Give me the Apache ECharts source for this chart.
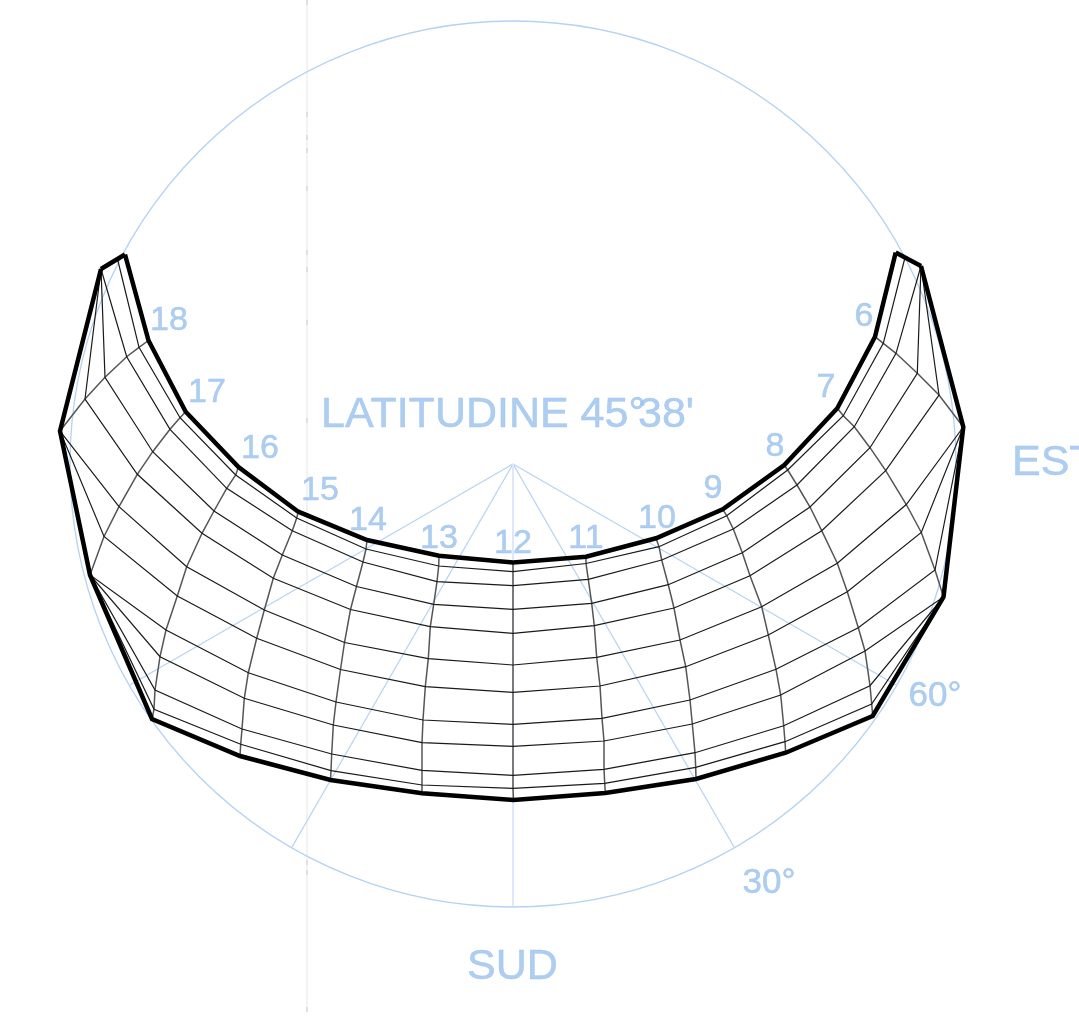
<!DOCTYPE html>
<html><head><meta charset="utf-8">
<style>html,body{margin:0;padding:0;background:#fff}#c{width:1079px;height:1018px}</style>
<script src="https://cdn.jsdelivr.net/npm/echarts@6/dist/echarts.min.js"></script>
</head><body><div id="c"></div>
<script>
// hour columns: node 0 = top thick curve ... node 11 = bottom thick curve
const h19=[[125,254.5],[117.5,259],[101,269],[101,269],[101,269],[101,269],[101,269],[101,269],[101,269],[101,269],[101,269],[101,269]];
const h18=[[148.5,340.5],[139,347.3],[126.7,356.7],[105,377.3],[85,399],[60,431],[60,431],[60,431],[60,431],[60,431],[60,431],[60,431]];
const h17=[[185.7,411.7],[180,417.7],[170,429.3],[152.7,451.7],[137.3,474.3],[119,506.7],[104,536.5],[90,575],[90,575],[90,575],[90,575],[90,575]];
const h16=[[238.5,467],[235.7,475],[226.7,488.3],[214,511],[202,533.3],[186.7,566.7],[177.3,596],[166,630],[160,656.7],[155,690],[154,709.3],[152,719]];
const h15=[[298.3,511.7],[296.7,518],[292.3,530.7],[282.3,555],[273.3,578.3],[264.3,610],[256.7,638.3],[248.3,672.7],[244.3,698.3],[242,729],[240.7,744.3],[240,756]];
const h14=[[367,540],[366,549],[363,562],[356.5,586.5],[350.5,609.5],[344.5,642.5],[340.5,669.5],[336,702],[333.3,725],[331.7,754],[331,770.7],[330.5,780]];
const h13=[[439,555.7],[438.7,566],[437,581.7],[433.7,604.3],[430.3,626.7],[428.3,658.7],[425.3,686.7],[423,720],[422,742.7],[422,770.3],[422,785],[422,793.3]];
const h12=[[513,562.5],[513,571.7],[513,585.7],[513,609.3],[513,633.3],[513,665],[513,692.3],[513,724.3],[513,746.3],[513,775.3],[513,788.3],[513.5,800]];
const h11=[[586,556.7],[586,563.5],[588.3,579.3],[591.7,603.3],[594.3,625.7],[596.7,657.3],[600,686],[602,718.3],[604,741],[604,769.3],[604.7,783.3],[605.3,793]];
const h10=[[656,538.3],[659,546.7],[661.7,560],[668.3,584.7],[674,608],[680,640],[685.7,666.7],[690,700],[692.3,724],[695,752.7],[695.7,767.3],[696,779]];
const h9=[[722.7,509.3],[726.7,515.7],[733.3,529],[742.3,552.7],[750,575.7],[761.7,606.7],[768.3,635],[776,669.3],[780.7,695],[783.7,725.7],[785,741.7],[785.7,752.7]];
const h8=[[784.3,465],[787.7,470],[797,485],[810,507],[821.7,530.7],[837.3,563.3],[847.3,591.7],[858.3,627.7],[865,651],[870,685.7],[871.7,704],[872.7,716]];
const h7=[[837.3,408.3],[843.3,415.7],[854.3,426.7],[870,447.7],[885.7,470.7],[906.3,504.5],[921.3,532.5],[935,570],[943.5,597],[943.5,597],[943.5,597],[943.5,597]];
const h6=[[875,336.7],[883.3,343.3],[896,353.3],[917.3,373.3],[939,395],[963.3,427],[963.3,427],[963.3,427],[963.3,427],[963.3,427],[963.3,427],[963.3,427]];
const h5=[[895.7,252.5],[905,257.5],[921,266],[921,266],[921,266],[921,266],[921,266],[921,266],[921,266],[921,266],[921,266],[921,266]];
const hourColumns=[h19,h18,h17,h16,h15,h14,h13,h12,h11,h10,h9,h8,h7,h6,h5];

const centre=[513,464];
const circleEdge=[513,21];
const radialEnds=[[130,685],[292,847],[734,847],[896,685]];
const southEnd=[513,906];
const guideLine=[[307,0],[307,1012]];
const guideTicks=[0,112,135,148,186,250,267,320,418,860,870,1007];

const hourLabels=[['18',169,321],['17',207,393],['16',260,449],['15',320,491],['14',368,521],['13',439,539],['12',513,544],['11',586,539],['10',657,519],['9',713,489],['8',775,447],['7',826,388],['6',864,317]];
const angleLabels=[['60°',935,696],['30°',769,883]];
const bigLabels=[['LATITUDINE 45°',321,415],['38\'',638,415],['SUD',467,967],['EST',1012,463]];

const BLUE='#98c0ee';
function plain(data,color,width,z){return {type:'line',data,symbol:'none',silent:true,animation:false,z:z,clip:false,
  lineStyle:{color,width,join:'miter',cap:'butt'}};}
function labels(arr,size,align){return {type:'scatter',symbolSize:0,silent:true,animation:false,z:10,clip:false,
  data:arr.map(a=>({value:[a[1],a[2]],name:a[0]})),
  label:{show:true,position:'inside',formatter:p=>p.name,color:BLUE,fontSize:size,fontFamily:'"Liberation Sans",Arial,sans-serif',align,verticalAlign:'middle',
    textBorderColor:BLUE,textBorderWidth:0.5}};}

const series=[];
series.push(plain(guideLine,'#efefef',1.5,1));
guideTicks.forEach(y=>series.push(plain([[307,y],[307,y+5]],'#dadada',1.5,1)));
series.push({type:'custom',silent:true,animation:false,z:2,clip:false,coordinateSystem:'cartesian2d',
  data:[[centre[0],centre[1],circleEdge[0],circleEdge[1]]],
  renderItem:(p,api)=>{const c=api.coord([api.value(0),api.value(1)]);const e=api.coord([api.value(2),api.value(3)]);
    return {type:'circle',shape:{cx:c[0],cy:c[1],r:Math.abs(c[1]-e[1])},style:{fill:'none',stroke:'#b4d2f2',lineWidth:1.3}};}});
radialEnds.forEach(e=>series.push(plain([centre,e],'#b8d4f2',1.3,2)));
series.push(plain([centre,southEnd],'#dfe7fb',2,2));

hourColumns.forEach((col,i)=>{
  const edge=(i===0||i===hourColumns.length-1);
  series.push(plain(col,edge?'#000':'#555',edge?4.5:1.5,edge?6:4));
});
for(let d=0;d<12;d++){
  const curve=hourColumns.map(col=>col[d]);
  const thick=(d===0||d===11);
  series.push(plain(curve,thick?'#000':'#1a1a1a',thick?4.5:1.2,thick?6:5));
}
series.push(labels(hourLabels,34,'center'));
series.push(labels(angleLabels,35,'center'));
series.push(labels(bigLabels,43,'left'));

const chart=echarts.init(document.getElementById('c'),null,{renderer:'canvas'});
chart.setOption({animation:false,backgroundColor:'#fff',
  grid:{left:0,top:0,right:0,bottom:0},
  xAxis:{type:'value',min:0,max:1079,show:false},
  yAxis:{type:'value',min:0,max:1018,inverse:true,show:false},
  series});
</script></body></html>
